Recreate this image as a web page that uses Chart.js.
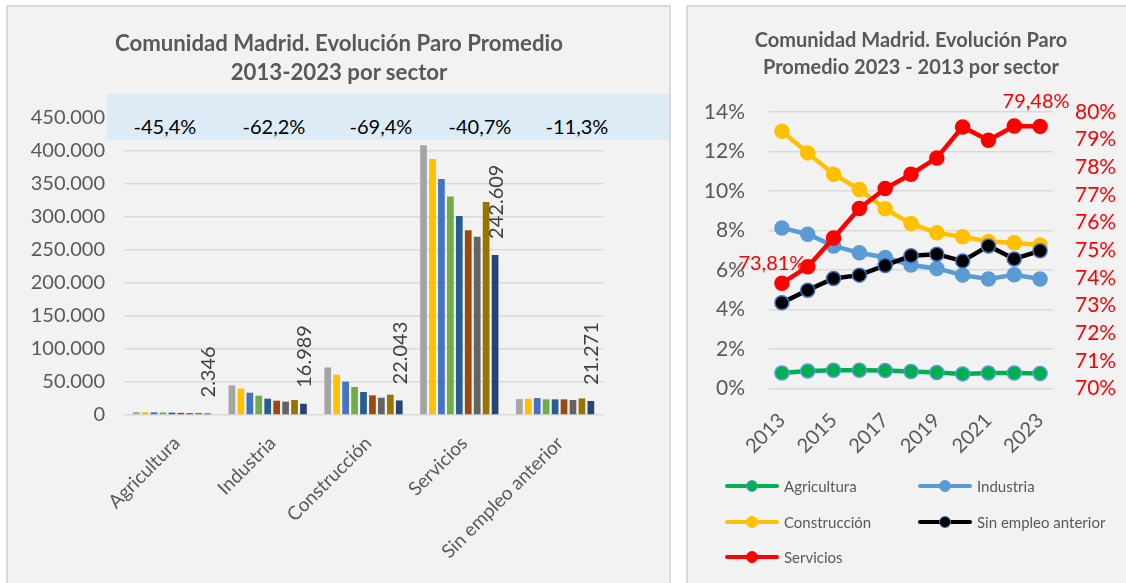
<!DOCTYPE html>
<html><head><meta charset="utf-8">
<script src="https://cdn.jsdelivr.net/npm/chart.js@4.4.0/dist/chart.umd.min.js"></script>
<style>
body{margin:0;width:1126px;height:583px;background:#fff;position:relative;overflow:hidden;font-family:Lato,"Open Sans",sans-serif}
.panel{position:absolute;background:#F2F2F2;border:2px solid #D9D9D9;box-sizing:border-box}
#p1{left:6px;top:5px;width:665px;height:620px}
#p2{left:686px;top:5px;width:460px;height:620px}
canvas{position:absolute}
#c1{left:0;top:0}
#c2{left:688px;top:0}
.title{position:absolute;text-align:center;font-weight:bold;color:#595959;white-space:nowrap}
#t1{left:39px;width:600px;top:28px;font-size:22.2px;line-height:29px}
#t2{left:688px;width:446px;top:26px;font-size:20px;line-height:27px}
#band{position:absolute;left:107px;top:94px;width:562px;height:46px;background:#DDEBF7}
.pct{position:absolute;top:114px;font-size:20px;color:#000;transform:translateX(-50%);line-height:24px;white-space:nowrap}
.leg{position:absolute;font-size:15px;color:#595959;line-height:18px;white-space:nowrap}
.sym{position:absolute;width:54px;height:12px}
.sym .ln{position:absolute;left:0;top:4px;width:54px;height:4px;border-radius:2px}
.sym .mk{position:absolute;left:21px;top:0;width:12px;height:12px;border-radius:50%;box-sizing:border-box}
</style>
</head><body>
<div class="panel" id="p1"></div>
<div class="panel" id="p2"></div>
<canvas id="c1" width="670" height="583"></canvas>
<canvas id="c2" width="438" height="583"></canvas>
<div class="title" id="t1">Comunidad Madrid. Evolución Paro Promedio<br>2013-2023 por sector</div>
<div class="title" id="t2">Comunidad Madrid. Evolución Paro<br>Promedio 2023 - 2013 por sector</div>
<div id="band"></div>
<div id="pcts"></div>
<div id="legend"></div>
<script>
// ---------- Left chart data ----------
const sectores = ['Agricultura','Industria','Construcción','Servicios','Sin empleo anterior'];
const aniosBarras = ['2013','2014','2015','2016','2017','2018','2019','2020','2023'];
const agricultura = [4300,4200,4100,3800,3600,3300,3000,3200,2346];
const industria = [44900,39900,33800,29300,24700,21700,20200,22700,16989];
const construccion = [72000,61000,50500,42400,34800,29800,26200,30800,22043];
const servicios = [408600,388000,357700,331000,301700,280000,270000,322900,242609];
const sinEmpleo = [24000,24700,25700,23700,23700,23700,22700,25200,21271];
const variacion = ['-45,4%','-62,2%','-69,4%','-40,7%','-11,3%'];
const coloresBarras = ['#A5A5A5','#FFC000','#4472C4','#70AD47','#255E91','#9E480E','#636363','#997300','#264478'];

// ---------- Right chart data ----------
const anios = ['2013','2014','2015','2016','2017','2018','2019','2020','2021','2022','2023'];
const pAgricultura = [0.78,0.89,0.92,0.92,0.91,0.86,0.81,0.74,0.79,0.79,0.76];
const pIndustria = [8.13,7.81,7.22,6.87,6.63,6.25,6.08,5.74,5.54,5.76,5.54];
const pConstruccion = [13.03,11.93,10.85,10.08,9.10,8.35,7.88,7.68,7.44,7.38,7.27];
const pSinEmpleo = [4.34,4.98,5.57,5.74,6.23,6.72,6.80,6.45,7.22,6.56,6.97];
const pServicios = [73.81,74.40,75.44,76.51,77.23,77.75,78.34,79.46,78.98,79.49,79.48];

const fmt = v => String(Math.round(v)).replace(/\B(?=(\d{3})+(?!\d))/g,'.');
const GRAY='#595959', GRID='#D9D9D9';

// band labels
const bandX=[165,274,381,480,577];
document.getElementById('pcts').innerHTML = variacion.map((t,i)=>`<div class="pct" style="left:${bandX[i]}px">${t}</div>`).join('');

const porSector = [agricultura,industria,construccion,servicios,sinEmpleo];
const barDatasets = aniosBarras.map((a,i)=>({
  label:a,
  data: porSector.map(s=>s[i]),
  backgroundColor: coloresBarras[i],
  borderWidth:0,
  categoryPercentage:0.84,
  barPercentage:0.75
}));

const barLabels = {
  id:'barLabels',
  afterDatasetsDraw(chart){
    const ctx=chart.ctx; const i=chart.data.datasets.length-1;
    const meta=chart.getDatasetMeta(i);
    ctx.save(); ctx.font='20px Lato'; ctx.fillStyle='#404040'; ctx.textAlign='left'; ctx.textBaseline='middle';
    meta.data.forEach((bar,j)=>{ ctx.save(); ctx.translate(bar.x+1, bar.y-16); ctx.rotate(-Math.PI/2); ctx.fillText(fmt(chart.data.datasets[i].data[j]),0,0); ctx.restore();});
    ctx.restore();
  }
};

new Chart(document.getElementById('c1'),{
  type:'bar',
  data:{labels:sectores,datasets:barDatasets},
  options:{
    responsive:false,animation:false,
    layout:{padding:{left:0,right:67,top:118,bottom:0}},
    plugins:{legend:{display:false},tooltip:{enabled:false}},
    scales:{
      x:{grid:{display:false,drawTicks:false},border:{display:false},
         ticks:{color:GRAY,font:{family:'Lato',size:19},maxRotation:45,minRotation:45,padding:17,labelOffset:5},
         afterFit(s){s.height=168;}},
      y:{min:0,max:450000,grid:{color:GRID,lineWidth:1.5,drawTicks:false},border:{display:false},
         ticks:{stepSize:50000,autoSkip:false,color:GRAY,font:{family:'Lato',size:20},padding:19,callback:v=>fmt(v)},
         afterFit(s){s.width=124;}}
    }
  },
  plugins:[barLabels]
});

// ---------- right chart ----------
const ptLabels = {
  id:'ptLabels',
  beforeDatasetsDraw(chart){
    const ctx=chart.ctx;
    const idx=chart.data.datasets.findIndex(d=>d.yAxisID==='y1');
    const meta=chart.getDatasetMeta(idx); const d=chart.data.datasets[idx].data;
    const first=meta.data[0], last=meta.data[d.length-1];
    const f=v=>v.toFixed(2).replace('.',',')+'%';
    ctx.save(); ctx.font='20px Lato'; ctx.fillStyle='#FF0000'; ctx.textAlign='center'; ctx.textBaseline='middle';
    ctx.fillText(f(d[0]), first.x-10, first.y-20);
    ctx.fillText(f(d[d.length-1]), last.x-4, last.y-25);
    ctx.restore();
  }
};

const lineDs = (label,data,color,mkFill,mkBorder,order,axis)=>({
  label,data,borderColor:color,backgroundColor:mkFill,pointBackgroundColor:mkFill,pointBorderColor:mkBorder,
  pointBorderWidth:1.5,pointRadius:7,borderWidth:4.5,tension:0,order,yAxisID:axis||'y'
});
const lineSeries=[
  lineDs('Agricultura',pAgricultura,'#00B050','#00B050','#5B9BD5',4),
  lineDs('Industria',pIndustria,'#5B9BD5','#5B9BD5','#5B9BD5',3),
  lineDs('Construcción',pConstruccion,'#FFC000','#FFC000','#FFC000',2),
  lineDs('Sin empleo anterior',pSinEmpleo,'#000000','#000000','#4472C4',1),
  lineDs('Servicios',pServicios,'#FF0000','#FF0000','#FF0000',0,'y1')
];

new Chart(document.getElementById('c2'),{
  type:'line',
  data:{labels:anios,datasets:lineSeries},
  options:{
    responsive:false,animation:false,
    layout:{padding:{left:0,right:0,top:112,bottom:0}},
    plugins:{legend:{display:false},tooltip:{enabled:false}},
    scales:{
      x:{offset:true,grid:{display:false,drawTicks:false},border:{display:false},
         ticks:{autoSkip:false,color:GRAY,font:{family:'Lato',size:20},maxRotation:45,minRotation:45,padding:20,
           callback(v,i){return i%2===0?this.getLabelForValue(v):'';}},
         afterFit(s){s.height=194.5;}},
      y:{position:'left',min:0,max:14,grid:{color:GRID,lineWidth:1.5,drawTicks:false},border:{display:false},
         ticks:{stepSize:2,autoSkip:false,color:GRAY,font:{family:'Lato',size:21},padding:24,callback:v=>v+'%'},
         afterFit(s){s.width=81;}},
      y1:{position:'right',min:70,max:80,grid:{display:false,drawTicks:false},border:{display:false},
         ticks:{stepSize:1,autoSkip:false,color:'#FF0000',font:{family:'Lato',size:21},padding:22,callback:v=>v+'%'},
         afterFit(s){s.width=73;}}
    }
  },
  plugins:[ptLabels]
});

// HTML legend
const legPos=[[725,486],[918,486],[725,522],[918,522],[725,557]];
document.getElementById('legend').innerHTML = lineSeries.map((d,i)=>{
  const [x,y]=legPos[i];
  return `<div class="sym" style="left:${x}px;top:${y-6}px"><div class="ln" style="background:${d.borderColor}"></div><div class="mk" style="background:${d.pointBackgroundColor};border:1.5px solid ${d.pointBorderColor}"></div></div>`+
         `<div class="leg" style="left:${x+59}px;top:${y-9}px">${d.label}</div>`;
}).join('');
</script>
</body></html>
